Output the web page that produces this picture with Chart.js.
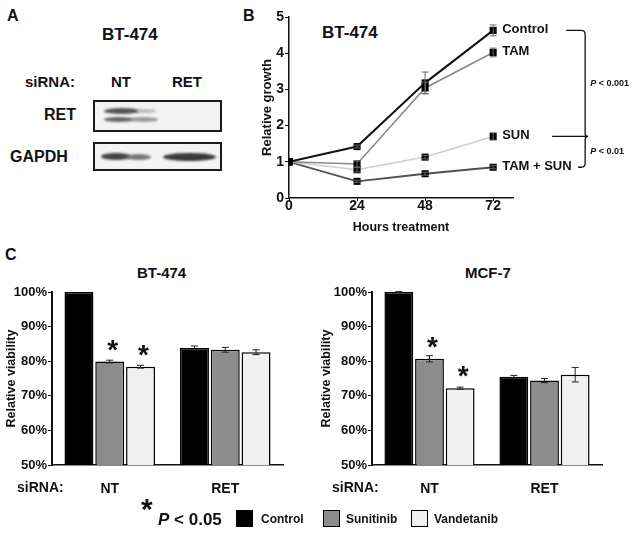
<!DOCTYPE html>
<html>
<head>
<meta charset="utf-8">
<script src="https://cdn.jsdelivr.net/npm/chart.js@4.4.1/dist/chart.umd.min.js"></script>
<style>
  body { margin: 0; background: #fff; }
  #fig { position: relative; width: 635px; height: 533px; overflow: hidden; background: #fff;
         font-family: 'Liberation Sans', Arial, Helvetica, sans-serif; font-weight: bold; color: #111; }
  .t { position: absolute; white-space: nowrap; line-height: 1; }
  canvas { position: absolute; }
  .blot { position: absolute; border: 2px solid #1a1a1a; background: #f3f3f3; box-sizing: border-box; }
  .band { position: absolute; border-radius: 50%; filter: blur(1.2px); }
  .box { position: absolute; width: 17px; height: 17px; border: 1.5px solid #000; box-sizing: border-box; }
</style>
</head>
<body>
<div id="fig">
  <!-- Panel A : western blot -->
  <div class="t" style="left:7px;top:8px;font-size:16px;">A</div>
  <div class="t" style="left:102px;top:26px;font-size:17px;">BT-474</div>
  <div class="t" style="left:25px;top:74px;font-size:15px;">siRNA:</div>
  <div class="t" style="left:111px;top:74px;font-size:15px;">NT</div>
  <div class="t" style="left:172px;top:74px;font-size:15px;">RET</div>
  <div class="t" style="left:44px;top:107px;font-size:16px;">RET</div>
  <div class="t" style="left:10px;top:149px;font-size:16px;">GAPDH</div>
  <div class="blot" style="left:93px;top:100px;width:129px;height:32px;"></div>
  <div class="band" style="left:104px;top:108px;width:36px;height:6px;background:#555;"></div>
  <div class="band" style="left:104px;top:117px;width:30px;height:5px;background:#666;"></div>
  <div class="band" style="left:130px;top:117px;width:28px;height:5px;background:#999;"></div>
  <div class="band" style="left:136px;top:109px;width:20px;height:4px;background:#bbb;"></div>
  <div class="blot" style="left:93px;top:142px;width:129px;height:29px;"></div>
  <div class="band" style="left:101px;top:153px;width:30px;height:7px;background:#444;"></div>
  <div class="band" style="left:126px;top:154px;width:25px;height:6px;background:#777;"></div>
  <div class="band" style="left:163px;top:153px;width:53px;height:8px;background:#3a3a3a;"></div>

  <!-- Panel B -->
  <div class="t" style="left:243px;top:8px;font-size:16px;">B</div>
  <div class="t" style="left:322px;top:24px;font-size:17px;">BT-474</div>
  <canvas id="growth" width="415" height="235" style="left:220px;top:0;"></canvas>

  <!-- Panel C -->
  <div class="t" style="left:5px;top:247px;font-size:16px;">C</div>
  <div class="t" style="left:137px;top:265px;font-size:15px;">BT-474</div>
  <div class="t" style="left:465px;top:265px;font-size:15px;">MCF-7</div>
  <canvas id="bt474" width="315" height="250" style="left:0;top:250px;"></canvas>
  <canvas id="mcf7" width="320" height="250" style="left:315px;top:250px;"></canvas>
  <div class="t" style="left:17px;top:480px;font-size:14px;">siRNA:</div>
  <div class="t" style="left:332px;top:480px;font-size:14px;">siRNA:</div>

  <!-- legend -->
  <div class="t" style="left:141px;top:494px;font-size:30px;">*</div>
  <div class="t" style="left:158px;top:511px;font-size:17px;"><i>P</i> &lt; 0.05</div>
  <div class="box" style="left:236px;top:510px;background:#000;"></div>
  <div class="t" style="left:261px;top:513px;font-size:12px;">Control</div>
  <div class="box" style="left:323px;top:510px;background:#8c8c8c;"></div>
  <div class="t" style="left:346px;top:513px;font-size:12px;">Sunitinib</div>
  <div class="box" style="left:411px;top:510px;background:#f0f0f0;"></div>
  <div class="t" style="left:434px;top:513px;font-size:12px;">Vandetanib</div>
</div>

<script>
// ---- Panel B data: relative growth (BT-474)
const hours = [0, 24, 48, 72];
const growthSeries = ['Control', 'TAM', 'SUN', 'TAM + SUN'];
const growthControl = [1, 1.42, 3.18, 4.63];
const growthTam = [1, 0.94, 3.04, 4.02];
const growthSun = [1, 0.78, 1.13, 1.70];
const growthTamSun = [1, 0.46, 0.67, 0.85];
const growthErrControl = [0, 0.04, 0.30, 0.15];
const growthErrTam = [0, 0.08, 0.16, 0.12];
const growthErrSun = [0, 0.06, 0.05, 0.10];
const growthErrTamSun = [0, 0.03, 0.04, 0.04];
const growthTicksY = [0, 1, 2, 3, 4, 5];
const pTop = 'P < 0.001';
const pBottom = 'P < 0.01';

// ---- Panel C data: relative viability (%)
const siRNA = ['NT', 'RET'];
const treatments = ['Control', 'Sunitinib', 'Vandetanib'];
const btControl = [100, 83.8];
const btSunitinib = [79.9, 83.3];
const btVandetanib = [78.4, 82.6];
const btErrControl = [0, 0.6];
const btErrSunitinib = [0.4, 0.7];
const btErrVandetanib = [0.4, 0.7];
const btStars = [[false, false], [true, false], [true, false]];
const mcfControl = [100, 75.5];
const mcfSunitinib = [80.7, 74.4];
const mcfVandetanib = [72.2, 76.1];
const mcfErrControl = [0.1, 0.4];
const mcfErrSunitinib = [0.9, 0.6];
const mcfErrVandetanib = [0.3, 2.1];
const mcfStars = [[false, false], [true, false], [true, false]];
const viabilityTicks = [50, 60, 70, 80, 90, 100];

Chart.defaults.font.family = "'Liberation Sans', Arial, Helvetica, sans-serif";
Chart.defaults.font.weight = 'bold';
Chart.defaults.color = '#111';
Chart.defaults.animation = false;

// error bars for any chart (dataset.errors)
const errorBars = {
    id: 'errorBars',
    afterDatasetsDraw(chart) {
        const ctx = chart.ctx;
        const y = chart.scales.y;
        ctx.save();
        chart.data.datasets.forEach((ds, i) => {
            const meta = chart.getDatasetMeta(i);
            if (!ds.errors) return;
            meta.data.forEach((el, j) => {
                const v = chart.config.type === 'line' ? ds.data[j].y : ds.data[j];
                const e = ds.errors[j];
                if (!e) return;
                const top = y.getPixelForValue(v + e);
                const bot = y.getPixelForValue(v - e);
                ctx.strokeStyle = ds.errorColor || '#222';
                ctx.lineWidth = 1;
                ctx.beginPath();
                ctx.moveTo(el.x, top); ctx.lineTo(el.x, bot);
                ctx.moveTo(el.x - 3.5, top); ctx.lineTo(el.x + 3.5, top);
                ctx.moveTo(el.x - 3.5, bot); ctx.lineTo(el.x + 3.5, bot);
                ctx.stroke();
            });
        });
        ctx.restore();
    }
};

// asterisks over significant bars
const stars = {
    id: 'stars',
    afterDatasetsDraw(chart, args, opts) {
        const ctx = chart.ctx;
        ctx.save();
        ctx.fillStyle = '#111';
        ctx.font = "bold 28px 'Liberation Sans', Arial, sans-serif";
        ctx.textAlign = 'center';
        ctx.textBaseline = 'alphabetic';
        opts.marks.forEach((row, i) => {
            const meta = chart.getDatasetMeta(i);
            row.forEach((on, j) => {
                if (!on) return;
                const el = meta.data[j];
                ctx.fillText('*', el.x + 3, el.y - 3);
            });
        });
        ctx.restore();
    }
};

// series names + significance brackets on the growth chart
const growthNotes = {
    id: 'growthNotes',
    afterDatasetsDraw(chart) {
        const ctx = chart.ctx;
        const xs = chart.scales.x, ys = chart.scales.y;
        const last = hours.length - 1;
        const lx = xs.getPixelForValue(hours[last]) + 9;
        const ypos = chart.data.datasets.map(ds => ys.getPixelForValue(ds.data[last].y));
        ctx.save();
        ctx.fillStyle = '#111';
        ctx.font = "bold 13px 'Liberation Sans', Arial, sans-serif";
        ctx.textBaseline = 'middle';
        growthSeries.forEach((name, i) => ctx.fillText(name, lx, ypos[i] - 1));

        const bx = lx + 83;
        const yTop = ypos[0], ySun = ypos[2], yLow = ypos[3];
        ctx.strokeStyle = '#111';
        ctx.lineWidth = 1.3;
        ctx.beginPath();
        ctx.moveTo(bx - 19, yTop);
        ctx.lineTo(bx - 4, yTop);
        ctx.quadraticCurveTo(bx, yTop, bx, yTop + 4);
        ctx.lineTo(bx, ySun - 3);
        ctx.quadraticCurveTo(bx, ySun, bx + 3, ySun);
        ctx.quadraticCurveTo(bx, ySun, bx, ySun + 3);
        ctx.lineTo(bx, yLow - 4);
        ctx.quadraticCurveTo(bx, yLow, bx - 4, yLow);
        ctx.lineTo(bx - 7, yLow);
        ctx.moveTo(bx - 33, ySun);
        ctx.lineTo(bx + 2, ySun);
        ctx.stroke();

        const drawP = (txt, yy) => {
            const rest = txt.slice(1);
            ctx.font = "italic bold 9px 'Liberation Sans', Arial, sans-serif";
            ctx.fillText('P', bx + 5, yy);
            const w = ctx.measureText('P').width;
            ctx.font = "bold 9px 'Liberation Sans', Arial, sans-serif";
            ctx.fillText(rest, bx + 5 + w, yy);
        };
        drawP(pTop, (yTop + ySun) / 2);
        drawP(pBottom, (ySun + yLow) / 2);
        ctx.restore();
    }
};

function lineSet(label, values, errs, color, width) {
    return {
        label: label,
        data: hours.map((h, i) => ({ x: h, y: values[i] })),
        errors: errs,
        errorColor: '#666',
        borderColor: color,
        borderWidth: width,
        pointStyle: 'rect',
        pointRadius: 5,
        pointBackgroundColor: '#000',
        pointBorderColor: '#000',
        pointBorderWidth: 0,
        tension: 0
    };
}

new Chart(document.getElementById('growth'), {
    type: 'line',
    data: {
        datasets: [
            lineSet('Control', growthControl, growthErrControl, '#111', 2),
            lineSet('TAM', growthTam, growthErrTam, '#8a8a8a', 1.6),
            lineSet('SUN', growthSun, growthErrSun, '#cfcfcf', 1.6),
            lineSet('TAM + SUN', growthTamSun, growthErrTamSun, '#505050', 1.8)
        ]
    },
    options: {
        responsive: false,
        devicePixelRatio: 1,
        layout: { padding: { top: 17, right: 122, left: 0, bottom: 0 } },
        plugins: { legend: { display: false }, tooltip: { enabled: false } },
        scales: {
            x: {
                type: 'linear', min: 0, max: 79,
                afterBuildTicks: axis => { axis.ticks = hours.map(v => ({ value: v })); },
                afterFit: axis => { axis.height = 37; },
                grid: { drawOnChartArea: false, drawTicks: true, tickLength: 3, color: '#111' },
                border: { color: '#111', width: 1.5 },
                ticks: { font: { size: 14 }, padding: -3, color: '#111' },
                title: { display: true, text: 'Hours treatment', font: { size: 12.5 }, padding: { top: -1, bottom: 0 }, color: '#111' }
            },
            y: {
                min: 0, max: 5,
                afterBuildTicks: axis => { axis.ticks = growthTicksY.map(v => ({ value: v })); },
                afterFit: axis => { axis.width = 69; },
                grid: { drawOnChartArea: false, drawTicks: true, tickLength: 4, color: '#111' },
                border: { color: '#111', width: 1.5 },
                ticks: { font: { size: 14 }, padding: 1, color: '#111' },
                title: { display: true, text: 'Relative growth', font: { size: 13 }, padding: { top: 40, bottom: 0 }, color: '#111' }
            }
        }
    },
    plugins: [errorBars, growthNotes]
});

function viabilityChart(id, control, sun, van, errs, marks, axisWidth, rightPad) {
    const colors = ['#000000', '#8c8c8c', '#f0f0f0'];
    const values = [control, sun, van];
    return new Chart(document.getElementById(id), {
        type: 'bar',
        data: {
            labels: siRNA,
            datasets: treatments.map((t, i) => ({
                label: t,
                data: values[i],
                errors: errs[i],
                backgroundColor: colors[i],
                borderColor: '#000',
                borderWidth: 1.5,
                borderSkipped: false,
                categoryPercentage: 0.8,
                barPercentage: 0.94
            }))
        },
        options: {
            responsive: false,
            devicePixelRatio: 1,
            layout: { padding: { top: 42, right: rightPad, left: 0, bottom: 0 } },
            plugins: { legend: { display: false }, tooltip: { enabled: false }, stars: { marks: marks } },
            scales: {
                x: {
                    afterFit: axis => { axis.height = 35; },
                    grid: { display: false, drawTicks: false },
                    border: { color: '#111', width: 1.5 },
                    ticks: { font: { size: 14 }, padding: 16, color: '#111' }
                },
                y: {
                    min: 50, max: 100,
                    afterBuildTicks: axis => { axis.ticks = viabilityTicks.map(v => ({ value: v })); },
                    afterFit: axis => { axis.width = axisWidth; },
                    grid: { drawOnChartArea: false, drawTicks: true, tickLength: 4, color: '#111' },
                    border: { color: '#111', width: 2 },
                    ticks: { font: { size: 13 }, padding: 1, color: '#111', callback: v => v + '%' },
                    title: { display: true, text: 'Relative viability', font: { size: 12.5 }, padding: { top: 4, bottom: 0 }, color: '#111' }
                }
            }
        },
        plugins: [errorBars, stars]
    });
}

viabilityChart('bt474', btControl, btSunitinib, btVandetanib,
    [btErrControl, btErrSunitinib, btErrVandetanib], btStars, 52, 32);
viabilityChart('mcf7', mcfControl, mcfSunitinib, mcfVandetanib,
    [mcfErrControl, mcfErrSunitinib, mcfErrVandetanib], mcfStars, 57, 33);
</script>
</body>
</html>
